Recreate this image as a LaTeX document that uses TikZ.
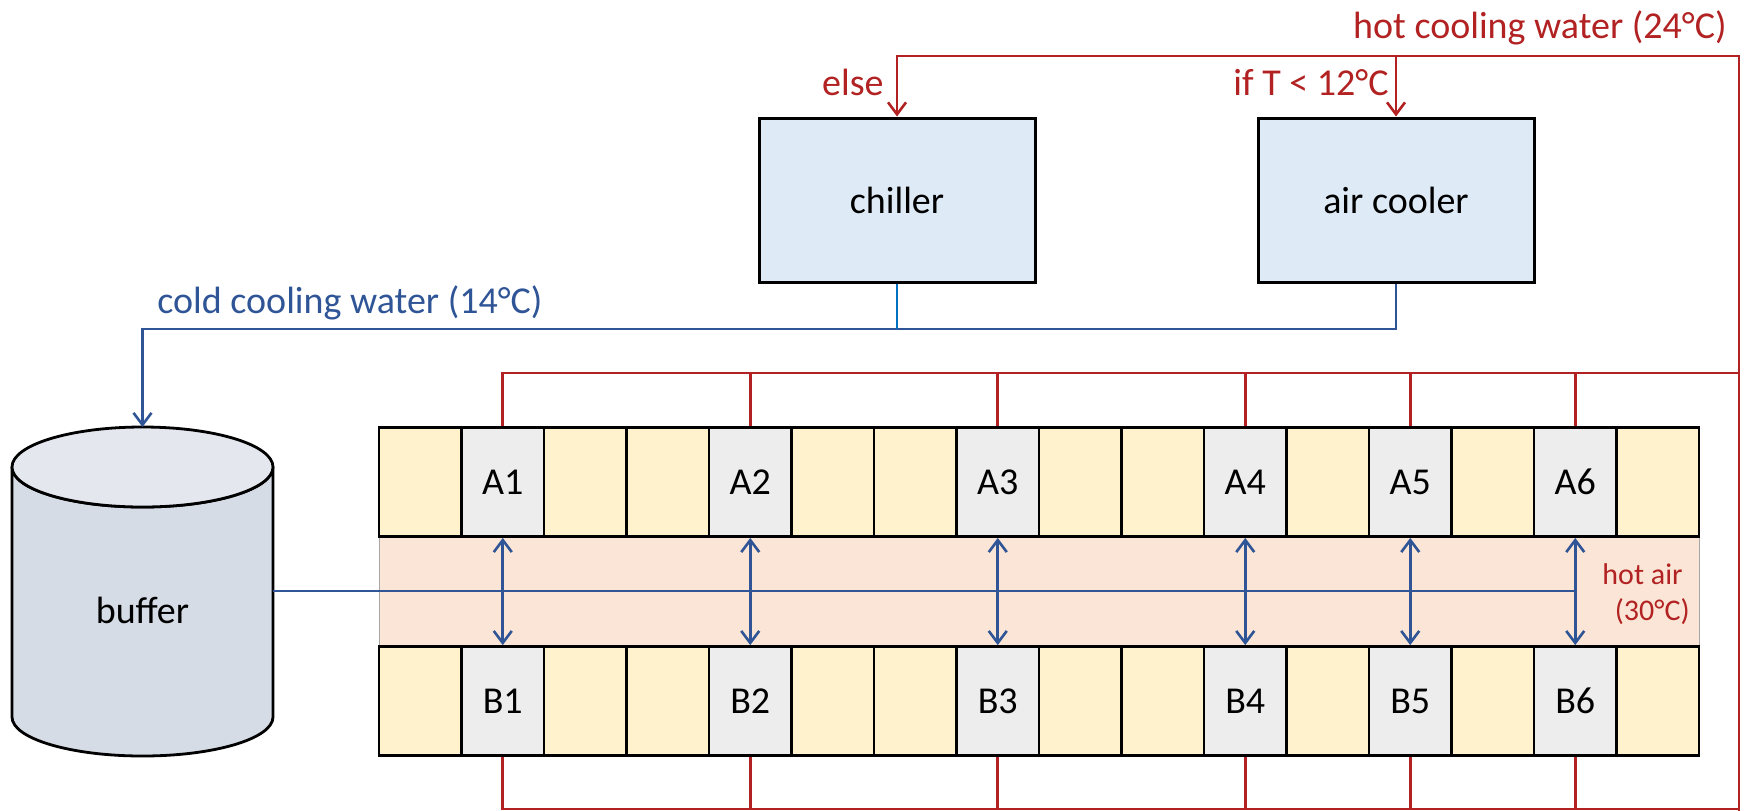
\documentclass[tikz,border=0pt]{standalone}
\usepackage{fontspec}
\setmainfont{Carlito}
\definecolor{hotred}{RGB}{178,34,34}
\definecolor{coldblue}{RGB}{47,85,151}
\definecolor{outblue}{RGB}{0,112,192}
\definecolor{unitblue}{RGB}{222,235,247}
\definecolor{rackyellow}{RGB}{255,242,204}
\definecolor{rackgrey}{RGB}{237,237,237}
\definecolor{aislepeach}{RGB}{251,229,214}
\definecolor{tankside}{RGB}{214,220,229}
\definecolor{tanktop}{RGB}{228,232,238}
\usetikzlibrary{arrows.meta,calc}

\begin{document}
\begin{tikzpicture}[x=0.5pt,y=-0.5pt,
        every node/.style={font=\fontsize{19}{23}\selectfont},
        >={Straight Barb[length=6pt,width=9pt]},
        unit/.style={draw,line width=1.5pt,fill=unitblue,minimum width=138pt,minimum height=82pt,inner sep=0pt},
        cell/.style={draw,line width=1.4pt,fill=rackyellow,minimum width=41.25pt,minimum height=54.5pt,inner sep=0pt},
        server/.style={cell,fill=rackgrey},
        hotpipe/.style={draw=hotred,line width=1.3pt},
        coldpipe/.style={draw=coldblue,line width=1.3pt},
        redlabel/.style={text=hotred,inner sep=0pt},
        bluelabel/.style={text=coldblue,inner sep=0pt}]
    \useasboundingbox (0,0) rectangle (1746,810);

    \node[unit] (chiller) at (897,200) {chiller};
    \node[unit] (aircooler) at (1396,200) {air cooler};

    \node[draw=black!35,line width=0.5pt,fill=aislepeach,minimum width=660pt,minimum height=55pt] (aisle) at (1039,591) {};
    \foreach \i in {0,2,3,5,6,8,9,11,13,15} {
        \node[cell] (ya\i) at ({420.25+82.5*\i},482) {};
        \node[cell] (yb\i) at ({420.25+82.5*\i},701) {};
    }
    \foreach \i/\n in {1/1,4/2,7/3,10/4,12/5,14/6} {
        \node[server] (A\n) at ({420.25+82.5*\i},482) {A\n};
        \node[server] (B\n) at ({420.25+82.5*\i},701) {B\n};
    }
    \node[redlabel,anchor=base east,font=\fontsize{15}{18}\selectfont] (hotair) at (1683,584) {hot air};
    \node[redlabel,anchor=base east,font=\fontsize{15}{18}\selectfont] (hotairtemp) at (1690,620) {(30°C)};

    \draw[line width=1.4pt,fill=tankside] (12,467) -- (12,717)
        arc[start angle=180,end angle=0,x radius=130.5,y radius=39] -- (273,467)
        arc[start angle=0,end angle=180,x radius=130.5,y radius=40] -- cycle;
    \draw[line width=1.4pt,fill=tanktop] (142.5,467) ellipse[x radius=130.5,y radius=40];
    \node (buffer) at (142.5,610) {buffer};

    \coordinate (hottop) at (1739,56);
    \coordinate (hotend) at (1739,812);
    \coordinate (hotrow) at (1739,373);
    \coordinate (hotret) at (1739,809);
    \coordinate (coldbend) at (142.5,329);
    \coordinate (buffertop) at (142.5,427);
    \coordinate (bufferout) at (273,591);

    \node[redlabel,anchor=base east] (hotlabel) at (1727,38) {hot cooling water (24°C)};
    \node[redlabel,anchor=base east] (elselabel) at (884,95) {else};
    \node[redlabel,anchor=base east] (iflabel) at (1389,95) {if T < 12°C};
    \node[bluelabel,anchor=base west] (coldlabel) at (157,313) {cold cooling water (14°C)};

    \draw[hotpipe,->] (hotend) -- (hottop) -| (chiller.north);
    \draw[hotpipe,->] (aircooler.north |- hottop) -- (aircooler.north);
    \draw[hotpipe] (A1.north) |- (hotrow);
    \draw[hotpipe] (B1.south) |- (hotret);
    \foreach \n in {2,...,6} {
        \draw[hotpipe] (A\n.north) -- (A\n.north |- hotrow);
        \draw[hotpipe] (B\n.south) -- (B\n.south |- hotret);
    }

    \draw[coldpipe,->] (aircooler.south) |- (coldbend) -- (buffertop);
    \draw[draw=outblue,line width=1.3pt] (chiller.south) -- (chiller.south |- coldbend);
    \draw[coldpipe] (bufferout) -- (bufferout -| A6.south);
    \foreach \n in {1,...,6}
        \draw[coldpipe,<->] (A\n.south) -- (B\n.north);
\end{tikzpicture}
\end{document}
